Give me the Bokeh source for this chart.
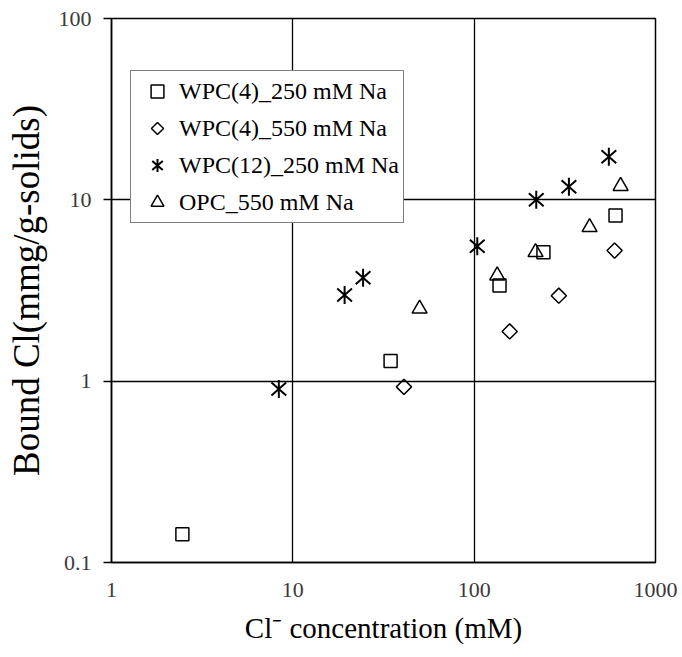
import numpy as np
from bokeh.plotting import figure
from bokeh.models import (FixedTicker, CustomJSTickFormatter, Legend, LegendItem, CustomJS)
from bokeh.models.glyphs import Scatter
from bokeh.embed import file_html
from bokeh.resources import INLINE

# ---- data ----
sq_x = [2.46, 34.6, 138, 241, 602]
sq_y = [0.143, 1.29, 3.37, 5.14, 8.2]

dm_x = [41, 157, 293, 595]
dm_y = [0.93, 1.88, 2.96, 5.25]

st_x = [8.37, 19.3, 24.4, 104, 220, 333, 553]
st_y = [0.905, 2.99, 3.72, 5.55, 10.0, 11.8, 17.3]

tr_x = [50, 134, 218, 433, 642]
tr_y = [2.51, 3.82, 5.14, 7.06, 11.9]

series_names = ["WPC(4)_250 mM Na", "WPC(4)_550 mM Na",
                "WPC(12)_250 mM Na", "OPC_550 mM Na"]

x_ticks = [1, 10, 100, 1000]
x_tick_labels = ["1", "10", "100", "1000"]
y_ticks = [0.1, 1, 10, 100]
y_tick_labels = ["0.1", "1", "10", "100"]

x_label = "Cl\u207b concentration (mM)"
y_label = "Bound Cl(mmg/g-solids)"

FONT = "Liberation Serif"

p = figure(width=682, height=657, frame_width=544, frame_height=544,
           x_axis_type="log", y_axis_type="log",
           x_range=(1, 1000), y_range=(0.1, 100),
           output_backend="svg", toolbar_location=None,
           min_border_left=111, min_border_right=27,
           min_border_top=18, min_border_bottom=95)

p.background_fill_color = "white"
p.border_fill_color = "white"
p.outline_line_color = "black"
p.outline_line_width = 1.5

def fmt(vals, labs):
    return CustomJSTickFormatter(args=dict(vals=vals, labs=labs), code="""
        for (let i = 0; i < vals.length; i++) {
            if (Math.abs(Math.log10(vals[i]) - Math.log10(tick)) < 1e-6) return labs[i];
        }
        return "";
    """)

p.xaxis.ticker = FixedTicker(ticks=x_ticks)
p.yaxis.ticker = FixedTicker(ticks=y_ticks)
p.xaxis.formatter = fmt(x_ticks, x_tick_labels)
p.yaxis.formatter = fmt(y_ticks, y_tick_labels)

for ax in (p.xaxis[0], p.yaxis[0]):
    ax.axis_line_color = "black"
    ax.axis_line_width = 1.5
    ax.minor_tick_line_color = None
    ax.major_tick_in = 0
    ax.major_tick_line_color = "black"
    ax.major_tick_line_width = 1.5
    ax.major_label_text_font = FONT
    ax.major_label_text_font_size = "22px"
    ax.major_label_text_color = "#3a3a3a"
    ax.axis_label_text_font = FONT
    ax.axis_label_text_font_style = "normal"
    ax.axis_label_text_color = "black"

p.xaxis.axis_label_text_font_size = "29px"
p.yaxis.axis_label_text_font_size = "37px"
p.xaxis.major_tick_out = 0
p.yaxis.major_tick_out = 8
p.xaxis.major_label_standoff = 20
p.yaxis.major_label_standoff = 12
p.xaxis.axis_label = x_label
p.yaxis.axis_label = y_label
p.xaxis.axis_label_standoff = 12
p.yaxis.axis_label_standoff = 9

p.xgrid.ticker = FixedTicker(ticks=x_ticks)
p.ygrid.ticker = FixedTicker(ticks=y_ticks)
p.grid.grid_line_color = "black"
p.grid.grid_line_width = 1.3
p.grid.minor_grid_line_color = None

common = dict(line_color="black", line_width=1.5, fill_alpha=0)

has_defs = "defs" in Scatter.properties()

if has_defs:
    star_def = CustomJS(code="""
export default (args, obj, {ctx, i, r, visuals}) => {
  const a = r * 0.82, b = r * 0.72
  ctx.moveTo(-a, -b); ctx.lineTo(a, b)
  ctx.moveTo(-a, b); ctx.lineTo(a, -b)
  ctx.moveTo(0, -r); ctx.lineTo(0, r)
  visuals.line.apply(ctx, i)
}
""")
    diamond_def = CustomJS(code="""
export default (args, obj, {ctx, i, r, visuals}) => {
  const d = r * 0.95
  ctx.moveTo(0, -d); ctx.lineTo(d, 0); ctx.lineTo(0, d); ctx.lineTo(-d, 0)
  ctx.closePath()
  visuals.fill.apply(ctx, i)
  visuals.line.apply(ctx, i)
}
""")
    r_sq = p.scatter(sq_x, sq_y, marker="square", size=13, **common)
    r_dm = p.scatter(dm_x, dm_y, marker="@diamond", defs={"@diamond": diamond_def},
                     size=16, **common)
    r_st = p.scatter(st_x, st_y, marker="@star", defs={"@star": star_def},
                     size=18, line_color="black", line_width=2)
else:
    r_sq = p.scatter(sq_x, sq_y, marker="square", size=13, **common)
    r_dm = p.scatter(dm_x, dm_y, marker="diamond", size=17, **common)
    r_st = p.scatter(st_x, st_y, marker="asterisk", size=16, line_color="black", line_width=2)

r_tr = p.scatter(tr_x, tr_y, marker="triangle", size=15, **common)

legend = Legend(items=[
    LegendItem(label=series_names[0], renderers=[r_sq]),
    LegendItem(label=series_names[1], renderers=[r_dm]),
    LegendItem(label=series_names[2], renderers=[r_st]),
    LegendItem(label=series_names[3], renderers=[r_tr]),
], location=(19, 339))
legend.label_text_font = FONT
legend.label_text_font_size = "24px"
legend.label_text_color = "black"
legend.border_line_color = "black"
legend.border_line_width = 1.5
legend.background_fill_color = "white"
legend.background_fill_alpha = 1
legend.glyph_width = 44
legend.glyph_height = 32
legend.label_height = 24
legend.label_standoff = 0
legend.spacing = 5
legend.padding = 4
legend.margin = 0
p.add_layout(legend, "center")

open("out.html", "w").write(file_html(p, INLINE))
